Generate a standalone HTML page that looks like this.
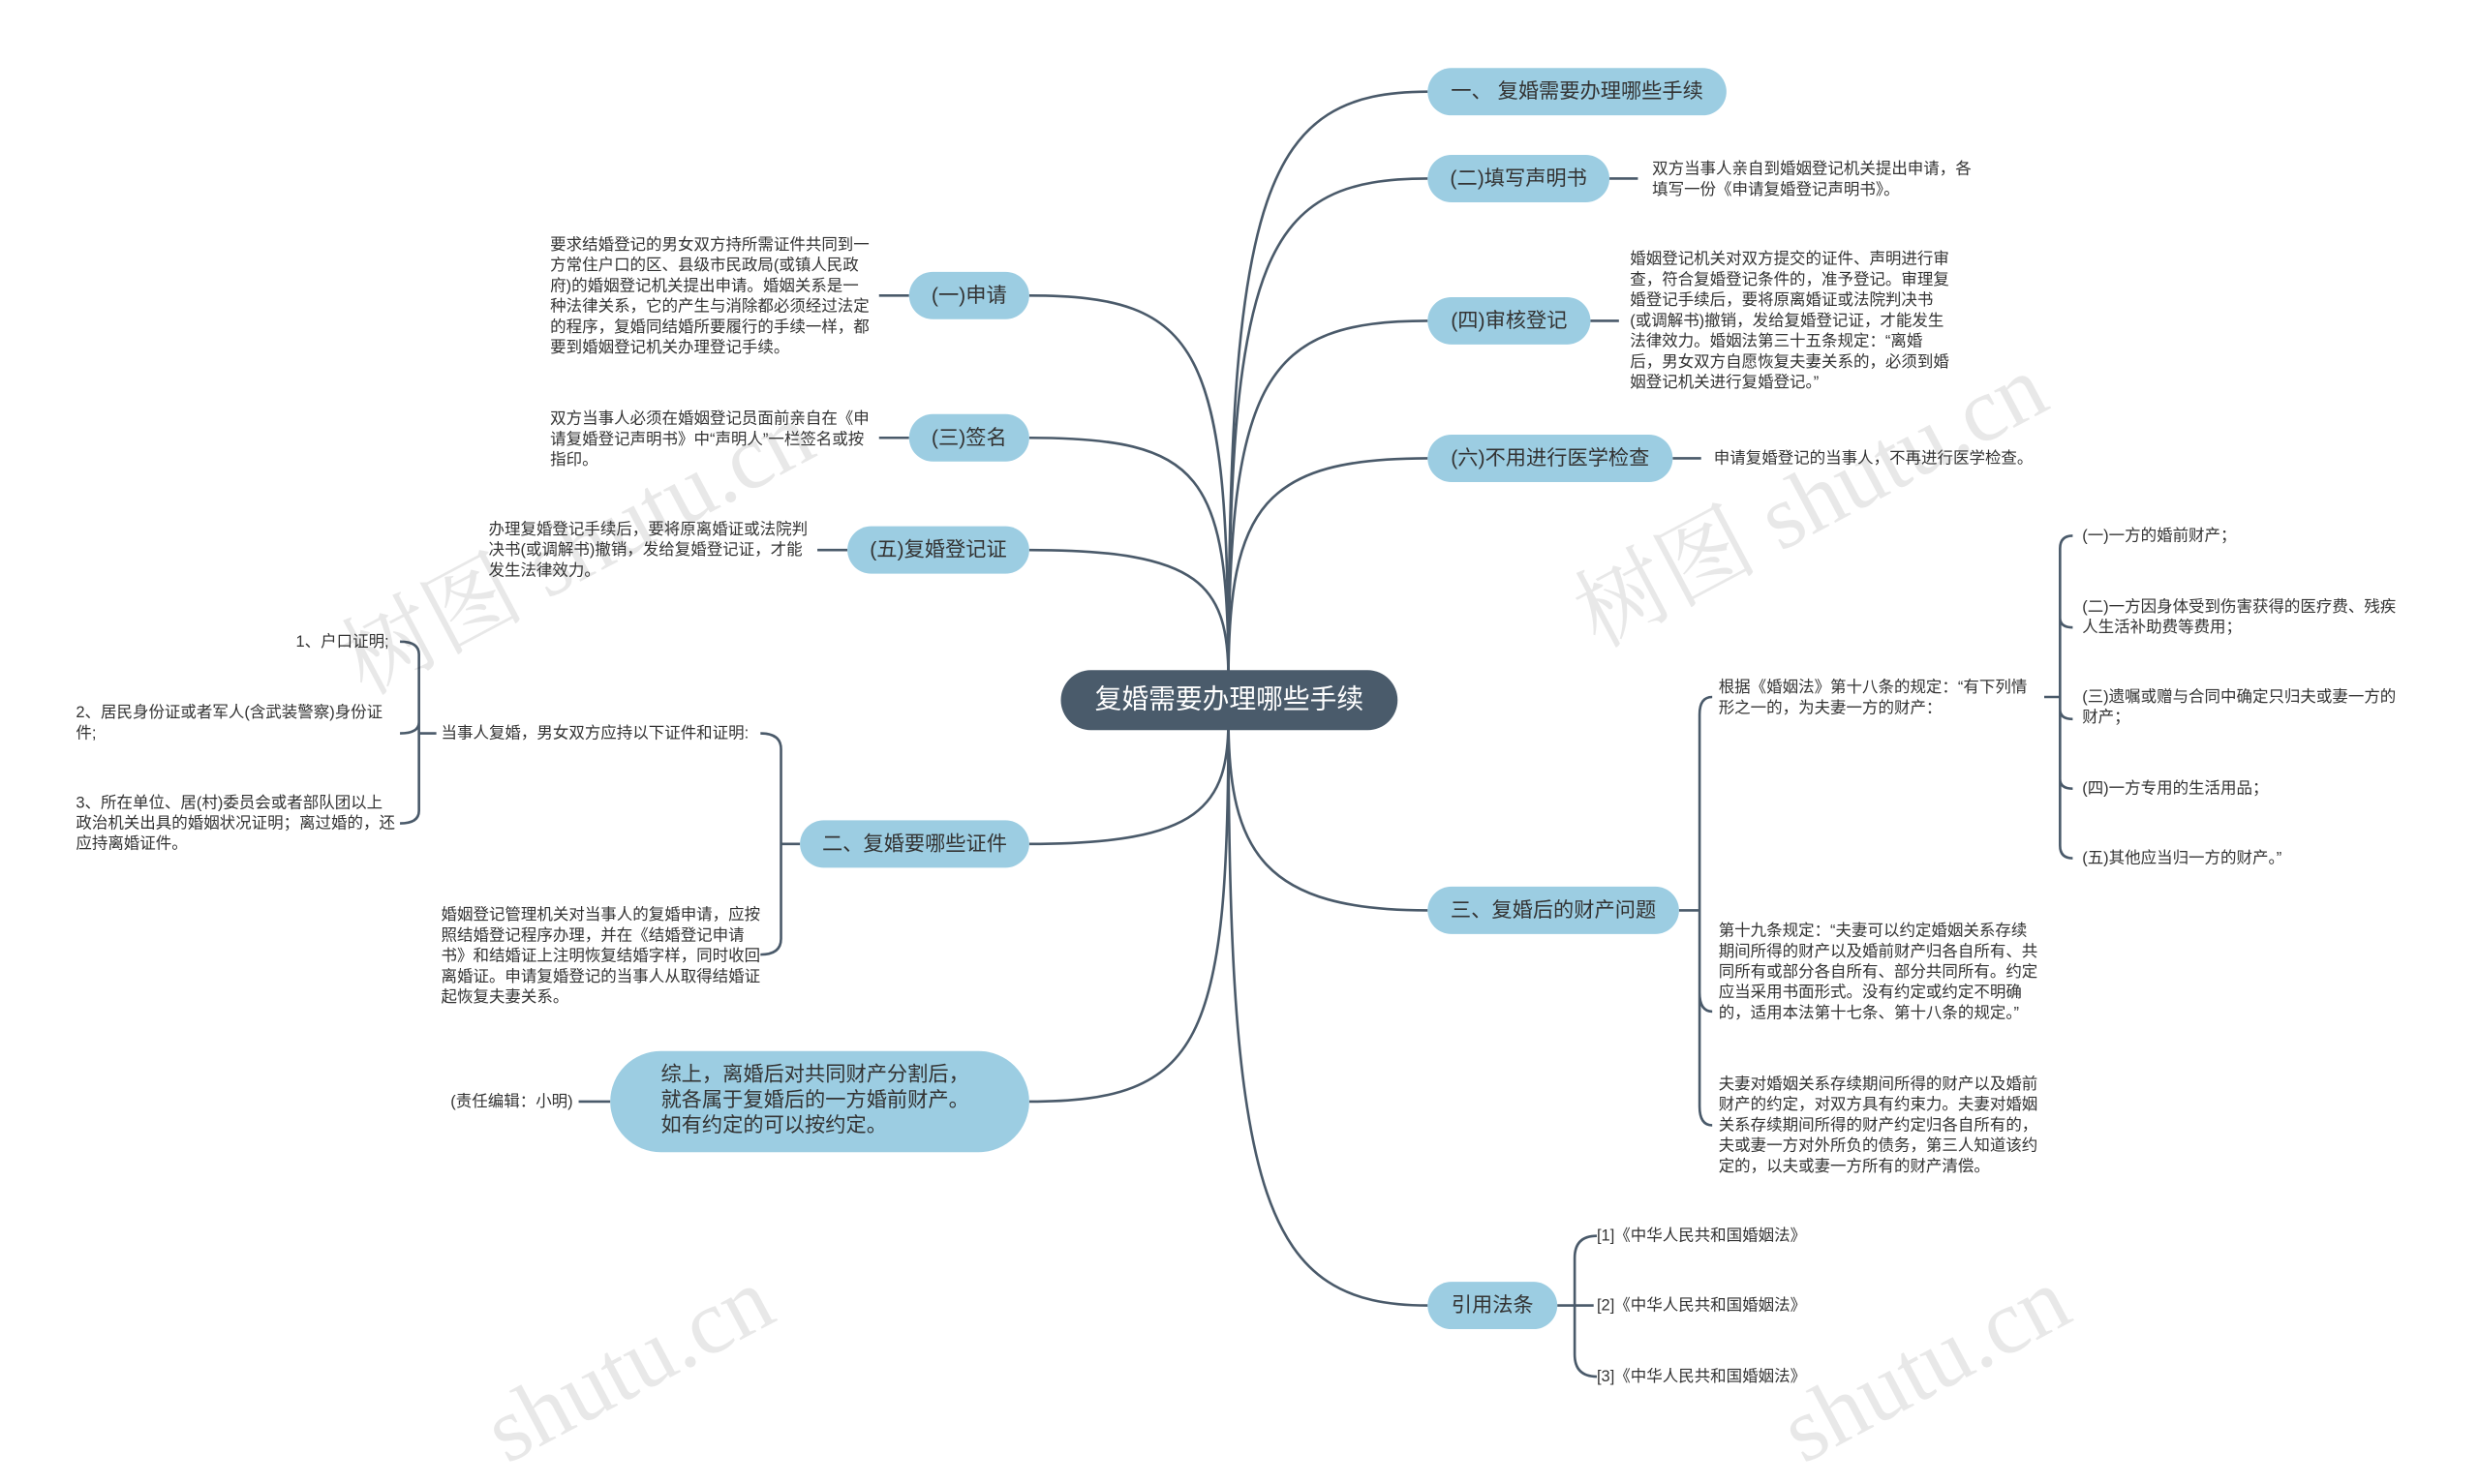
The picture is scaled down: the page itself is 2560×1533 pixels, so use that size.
<!DOCTYPE html>
<html><head><meta charset="utf-8"><style>
html,body{margin:0;padding:0;background:#fff;overflow:hidden}
#w{position:absolute;left:0;top:0;width:1568px;height:926px;transform:scale(1.632653);transform-origin:0 0;font-family:"Liberation Sans","Noto Sans CJK SC",sans-serif;color:#333}
.n{position:absolute;background:#9ccde2;border-radius:16px;font-size:13px;line-height:30px;height:30px;text-align:center;color:#333;white-space:nowrap}
.t{position:absolute;font-size:10.1px;line-height:13px;color:#333}
.wm{position:absolute;font-size:58px;color:rgba(0,0,0,0.09);transform:rotate(-28deg);white-space:nowrap;font-family:"Liberation Serif","Noto Serif CJK SC",serif}
svg{position:absolute;left:0;top:0}
</style></head><body><div id="w">
<svg width="1568" height="926" fill="none" stroke="#4a5a6a" stroke-width="1.6">
<path d="M777,430 C777,120 800,58 903,58"/>
<path d="M777,430 C777,160 800,113 903,113"/>
<path d="M777,430 C777,240 800,203 903,203"/>
<path d="M777,430 C777,320 800,290 903,290"/>
<path d="M777,455 C777,540 800,576 903,576"/>
<path d="M777,455 C777,760 800,826 903,826"/>
<path d="M777,430 C777,220 760,187 651,187"/>
<path d="M777,430 C777,300 760,277 651,277"/>
<path d="M777,430 C777,370 760,348 651,348"/>
<path d="M777,455 C777,510 760,534 651,534"/>
<path d="M777,455 C777,660 760,697 651,697"/>
<path d="M1018,113 H1036"/><path d="M1006,203 H1024"/><path d="M1058,290 H1076"/>
<path d="M575,187 H556"/><path d="M575,277 H556"/><path d="M536,348 H517"/>
<path d="M386,697 H366"/>
<path d="M506,534 H494 M481,464 Q494,464 494,474 V594 Q494,604 481,604"/>
<path d="M276,464 H265 M253,406 Q265,406 265,414 V513 Q265,521 253,521 M265,457 Q265,464 253,464"/>
<path d="M1062,576 H1075 M1083,441 Q1075,441 1075,452 V700 Q1075,712 1083,712 M1075,628 Q1075,640 1083,640"/>
<path d="M1293,441 H1303 M1311,339 Q1303,339 1303,347 V535 Q1303,543 1311,543 M1303,391 Q1303,397 1311,397 M1303,449 Q1303,455 1311,455 M1303,493 Q1303,499 1311,499"/>
<path d="M985,826 H1008 M1010,782 Q996,782 996,796 V857 Q996,871 1010,871"/>
</svg>
<div class="wm" style="left:200px;top:300px">树图 shutu.cn</div>
<div class="wm" style="left:980px;top:270px">树图 shutu.cn</div>
<div class="wm" style="left:300px;top:830px">shutu.cn</div>
<div class="wm" style="left:1120px;top:830px">shutu.cn</div>

<div class="n" style="left:671px;top:424px;width:213px;height:38px;line-height:38px;border-radius:19px;background:#4a5b6b;color:#fff;font-size:17px">复婚需要办理哪些手续</div>

<div class="n" style="left:903px;top:43px;width:189px">一、 复婚需要办理哪些手续</div>
<div class="n" style="left:903px;top:98px;width:115px">(二)填写声明书</div>
<div class="n" style="left:903px;top:188px;width:103px">(四)审核登记</div>
<div class="n" style="left:903px;top:275px;width:155px">(六)不用进行医学检查</div>
<div class="n" style="left:903px;top:561px;width:159px">三、复婚后的财产问题</div>
<div class="n" style="left:903px;top:811px;width:82px">引用法条</div>
<div class="n" style="left:575px;top:172px;width:76px">(一)申请</div>
<div class="n" style="left:575px;top:262px;width:76px">(三)签名</div>
<div class="n" style="left:536px;top:333px;width:115px">(五)复婚登记证</div>
<div class="n" style="left:506px;top:519px;width:145px">二、复婚要哪些证件</div>
<div class="n" style="left:386px;top:665px;width:265px;height:64px;border-radius:32px;text-align:left;line-height:16px;font-size:13px"><div style="padding:7px 0 0 32px">综上，离婚后对共同财产分割后，<br>就各属于复婚后的一方婚前财产。<br>如有约定的可以按约定。</div></div>

<div class="t" style="left:1045px;top:101px;width:210px">双方当事人亲自到婚姻登记机关提出申请，各填写一份《申请复婚登记声明书》。</div>
<div class="t" style="left:1031px;top:158px;width:203px">婚姻登记机关对双方提交的证件、声明进行审查，符合复婚登记条件的，准予登记。审理复婚登记手续后，要将原离婚证或法院判决书(或调解书)撤销，发给复婚登记证，才能发生法律效力。婚姻法第三十五条规定：“离婚后，男女双方自愿恢复夫妻关系的，必须到婚姻登记机关进行复婚登记。”</div>
<div class="t" style="left:1084px;top:284px;white-space:nowrap">申请复婚登记的当事人，不再进行医学检查。</div>
<div class="t" style="left:348px;top:149px;width:203px">要求结婚登记的男女双方持所需证件共同到一方常住户口的区、县级市民政局(或镇人民政府)的婚姻登记机关提出申请。婚姻关系是一种法律关系，它的产生与消除都必须经过法定的程序，复婚同结婚所要履行的手续一样，都要到婚姻登记机关办理登记手续。</div>
<div class="t" style="left:348px;top:259px;width:203px">双方当事人必须在婚姻登记员面前亲自在《申请复婚登记声明书》中“声明人”一栏签名或按指印。</div>
<div class="t" style="left:309px;top:329px;width:203px">办理复婚登记手续后，要将原离婚证或法院判决书(或调解书)撤销，发给复婚登记证，才能发生法律效力。</div>
<div class="t" style="left:279px;top:458px;white-space:nowrap">当事人复婚，男女双方应持以下证件和证明:</div>
<div class="t" style="left:279px;top:573px;width:203px">婚姻登记管理机关对当事人的复婚申请，应按照结婚登记程序办理，并在《结婚登记申请书》和结婚证上注明恢复结婚字样，同时收回离婚证。申请复婚登记的当事人从取得结婚证起恢复夫妻关系。</div>
<div class="t" style="left:140px;top:400px;width:106px;text-align:right">1、户口证明;</div>
<div class="t" style="left:48px;top:445px;width:200px">2、居民身份证或者军人(含武装警察)身份证件;</div>
<div class="t" style="left:48px;top:502px;width:204px">3、所在单位、居(村)委员会或者部队团以上政治机关出具的婚姻状况证明；离过婚的，还应持离婚证件。</div>
<div class="t" style="left:285px;top:691px;white-space:nowrap">(责任编辑：小明)</div>
<div class="t" style="left:1087px;top:429px;width:203px">根据《婚姻法》第十八条的规定：“有下列情形之一的，为夫妻一方的财产：</div>
<div class="t" style="left:1087px;top:583px;width:203px">第十九条规定：“夫妻可以约定婚姻关系存续期间所得的财产以及婚前财产归各自所有、共同所有或部分各自所有、部分共同所有。约定应当采用书面形式。没有约定或约定不明确的，适用本法第十七条、第十八条的规定。”</div>
<div class="t" style="left:1087px;top:680px;width:203px">夫妻对婚姻关系存续期间所得的财产以及婚前财产的约定，对双方具有约束力。夫妻对婚姻关系存续期间所得的财产约定归各自所有的，夫或妻一方对外所负的债务，第三人知道该约定的，以夫或妻一方所有的财产清偿。</div>
<div class="t" style="left:1317px;top:333px;white-space:nowrap">(一)一方的婚前财产；</div>
<div class="t" style="left:1317px;top:378px;width:203px">(二)一方因身体受到伤害获得的医疗费、残疾人生活补助费等费用；</div>
<div class="t" style="left:1317px;top:435px;width:203px">(三)遗嘱或赠与合同中确定只归夫或妻一方的财产；</div>
<div class="t" style="left:1317px;top:493px;white-space:nowrap">(四)一方专用的生活用品；</div>
<div class="t" style="left:1317px;top:537px;white-space:nowrap">(五)其他应当归一方的财产。”</div>
<div class="t" style="left:1010px;top:776px;white-space:nowrap">[1]《中华人民共和国婚姻法》</div>
<div class="t" style="left:1010px;top:820px;white-space:nowrap">[2]《中华人民共和国婚姻法》</div>
<div class="t" style="left:1010px;top:865px;white-space:nowrap">[3]《中华人民共和国婚姻法》</div>
</div></body></html>
